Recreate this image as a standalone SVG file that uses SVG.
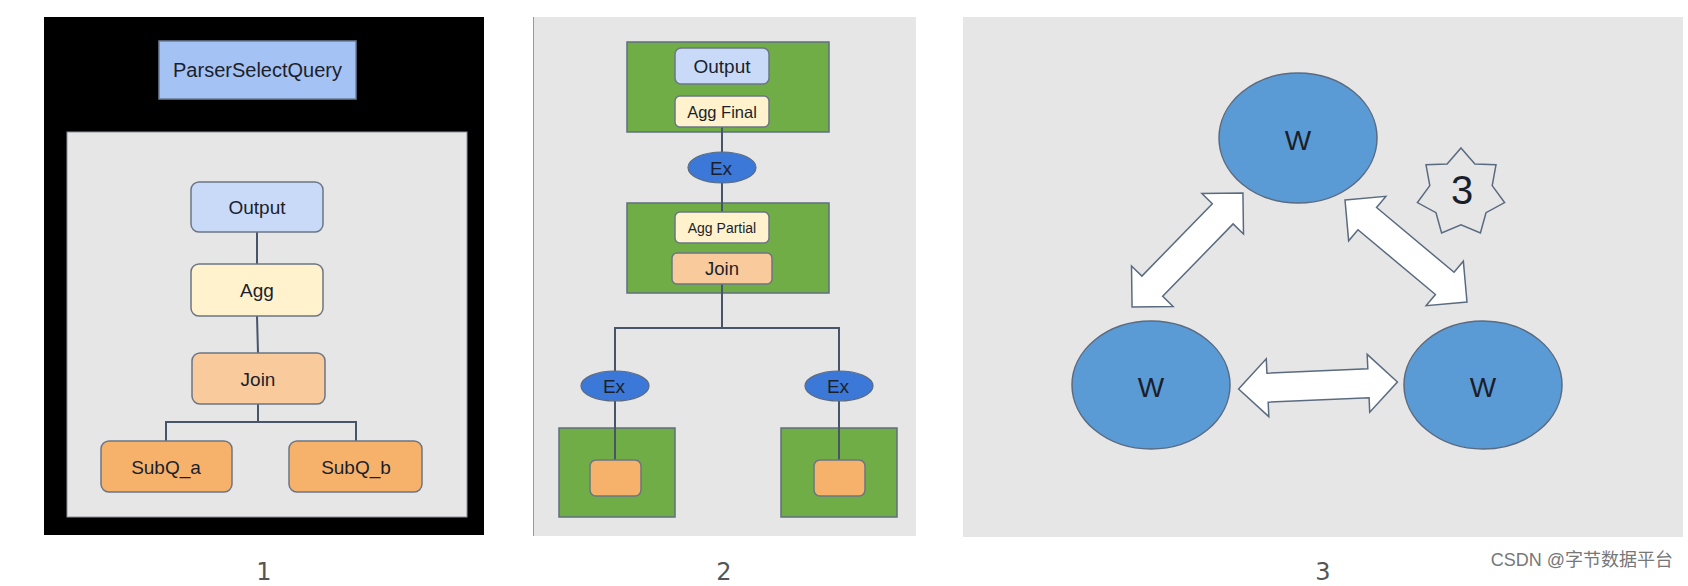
<svg xmlns="http://www.w3.org/2000/svg" width="1688" height="586" viewBox="0 0 1688 586">
<defs>
<style>
.t{font-family:"Liberation Sans",Arial,sans-serif;fill:#1b1f2b;text-anchor:middle;dominant-baseline:central}
.box{stroke:#6b7585;stroke-width:1.5}
.ln{stroke:#47556b;stroke-width:2;fill:none}
.grn{fill:#70ad47;stroke:#5f6f7f;stroke-width:1.5}
.ex{fill:#3c78d8;stroke:#5a6a80;stroke-width:1.2}
.w{fill:#5b9bd5;stroke:#5a6a80;stroke-width:1.5}
.arr{fill:#ffffff;stroke:#5a6a80;stroke-width:1.5}
.cap{font-family:"DejaVu Sans","Noto Sans",sans-serif;fill:#555;text-anchor:middle;font-size:24px}
</style>
<path id="dbl" d="M-79.5,0 L-50.5,-29 L-50.5,-14.5 L50.5,-14.5 L50.5,-29 L79.5,0 L50.5,29 L50.5,14.5 L-50.5,14.5 L-50.5,29 Z"/>
</defs>
<rect width="1688" height="586" fill="#ffffff"/>

<!-- Panel backgrounds -->
<g id="panel1">
<rect x="44" y="17" width="440" height="518" fill="#000000"/>
<rect x="67" y="132" width="400" height="385" fill="#e6e6e6" stroke="#8a8f98" stroke-width="1"/>
</g>
<g id="panel2">
<rect x="533" y="17" width="383" height="519" fill="#e6e6e6"/>
<line x1="533.5" y1="17" x2="533.5" y2="536" stroke="#9a9a9a" stroke-width="1"/>
</g>
<g id="panel3"><rect x="963" y="17" width="720" height="520" fill="#e6e6e6"/></g>

<g id="p2-top-frag"><rect class="grn" x="627" y="42" width="202" height="90"/></g>
<g id="p2-mid-frag"><rect class="grn" x="627" y="203" width="202" height="90"/></g>
<g id="p2-left-frag"><rect class="grn" x="559" y="428" width="116" height="89"/></g>
<g id="p2-right-frag"><rect class="grn" x="781" y="428" width="116" height="89"/></g>

<g id="connectors">
<line class="ln" x1="257" y1="232" x2="257" y2="264"/>
<line class="ln" x1="257" y1="316" x2="258" y2="353"/>
<polyline class="ln" points="258,404 258,422"/>
<polyline class="ln" points="166,441 166,422 356,422 356,441"/>
<line class="ln" x1="722" y1="127" x2="722" y2="152"/>
<line class="ln" x1="722" y1="183" x2="722" y2="212"/>
<line class="ln" x1="722" y1="284" x2="722" y2="328"/>
<polyline class="ln" points="615,371 615,328 839,328 839,371"/>
<line class="ln" x1="615" y1="401" x2="615" y2="460"/>
<line class="ln" x1="839" y1="401" x2="839" y2="460"/>
<use href="#dbl" class="arr" transform="translate(1187.5,250) rotate(-45.8)"/>
<use href="#dbl" class="arr" transform="translate(1406,251) rotate(39.9)"/>
<use href="#dbl" class="arr" transform="translate(1318,385.5) rotate(-2.5)"/>
</g>

<g id="p1-parser"><rect x="159" y="41" width="197" height="58" fill="#a4c2f4" stroke="#6d7f99" stroke-width="1.5"/><text class="t" x="257.5" y="70" font-size="20">ParserSelectQuery</text></g>
<g id="p1-output"><rect class="box" x="191" y="182" width="132" height="50" rx="8" fill="#c9daf8"/><text class="t" x="257" y="207" font-size="19">Output</text></g>
<g id="p1-agg"><rect class="box" x="191" y="264" width="132" height="52" rx="8" fill="#fff2cc"/><text class="t" x="257" y="290" font-size="19">Agg</text></g>
<g id="p1-join"><rect class="box" x="192" y="353" width="133" height="51" rx="8" fill="#f9cb9c"/><text class="t" x="258" y="379" font-size="19">Join</text></g>
<g id="p1-subqa"><rect class="box" x="101" y="441" width="131" height="51" rx="8" fill="#f6b26b"/><text class="t" x="166" y="467" font-size="19">SubQ_a</text></g>
<g id="p1-subqb"><rect class="box" x="289" y="441" width="133" height="51" rx="8" fill="#f6b26b"/><text class="t" x="356" y="467" font-size="19">SubQ_b</text></g>

<g id="p2-output"><rect class="box" x="675" y="48" width="94" height="36" rx="6" fill="#c9daf8"/><text class="t" x="722" y="66" font-size="19">Output</text></g>
<g id="p2-aggfinal"><rect class="box" x="675" y="96" width="94" height="31" rx="5" fill="#fff2cc"/><text class="t" x="722" y="111.5" font-size="16.5">Agg Final</text></g>
<g id="p2-ex1"><ellipse class="ex" cx="722" cy="167.5" rx="34" ry="15.5"/><text class="t" x="721" y="168" font-size="19">Ex</text></g>
<g id="p2-aggpartial"><rect class="box" x="675" y="212" width="94" height="31" rx="5" fill="#fff2cc"/><text class="t" x="722" y="227.5" font-size="14">Agg Partial</text></g>
<g id="p2-join"><rect class="box" x="672" y="253" width="100" height="31" rx="5" fill="#f9cb9c"/><text class="t" x="722" y="268.5" font-size="18.5">Join</text></g>
<g id="p2-ex2"><ellipse class="ex" cx="615" cy="386" rx="34" ry="15"/><text class="t" x="614" y="386.5" font-size="19">Ex</text></g>
<g id="p2-ex3"><ellipse class="ex" cx="839" cy="386" rx="34" ry="15"/><text class="t" x="838" y="386.5" font-size="19">Ex</text></g>
<g id="p2-scan-a"><rect class="box" x="590" y="460" width="51" height="36" rx="6" fill="#f6b26b"/></g>
<g id="p2-scan-b"><rect class="box" x="814" y="460" width="51" height="36" rx="6" fill="#f6b26b"/></g>

<g id="w-top"><ellipse class="w" cx="1298" cy="138" rx="79" ry="65"/><text class="t" x="1298" y="140" font-size="28">W</text></g>
<g id="w-left"><ellipse class="w" cx="1151" cy="385" rx="79" ry="64"/><text class="t" x="1151" y="387" font-size="28">W</text></g>
<g id="w-right"><ellipse class="w" cx="1483" cy="385" rx="79" ry="64"/><text class="t" x="1483" y="387" font-size="28">W</text></g>
<g id="star3">
<polygon points="1461,148 1474.9,163.9 1496,164.8 1492.2,185.6 1504.6,202.6 1486,212.7 1480.4,233 1461,224.7 1441.6,233 1436,212.7 1417.4,202.6 1429.8,185.6 1426,164.8 1447.1,163.9" fill="#e6e6e6" stroke="#5a6a80" stroke-width="1.5"/>
<text class="t" x="1462" y="190" font-size="40" fill="#222222">3</text>
</g>

<g id="captions">
<text class="cap" x="264" y="580">1</text>
<text class="cap" x="724" y="580">2</text>
<text class="cap" x="1323" y="580">3</text>
<text x="1673" y="566" text-anchor="end" font-family="'Liberation Sans','Noto Sans CJK SC',sans-serif" font-size="18" fill="#777777">CSDN @字节数据平台</text>
</g>
</svg>
